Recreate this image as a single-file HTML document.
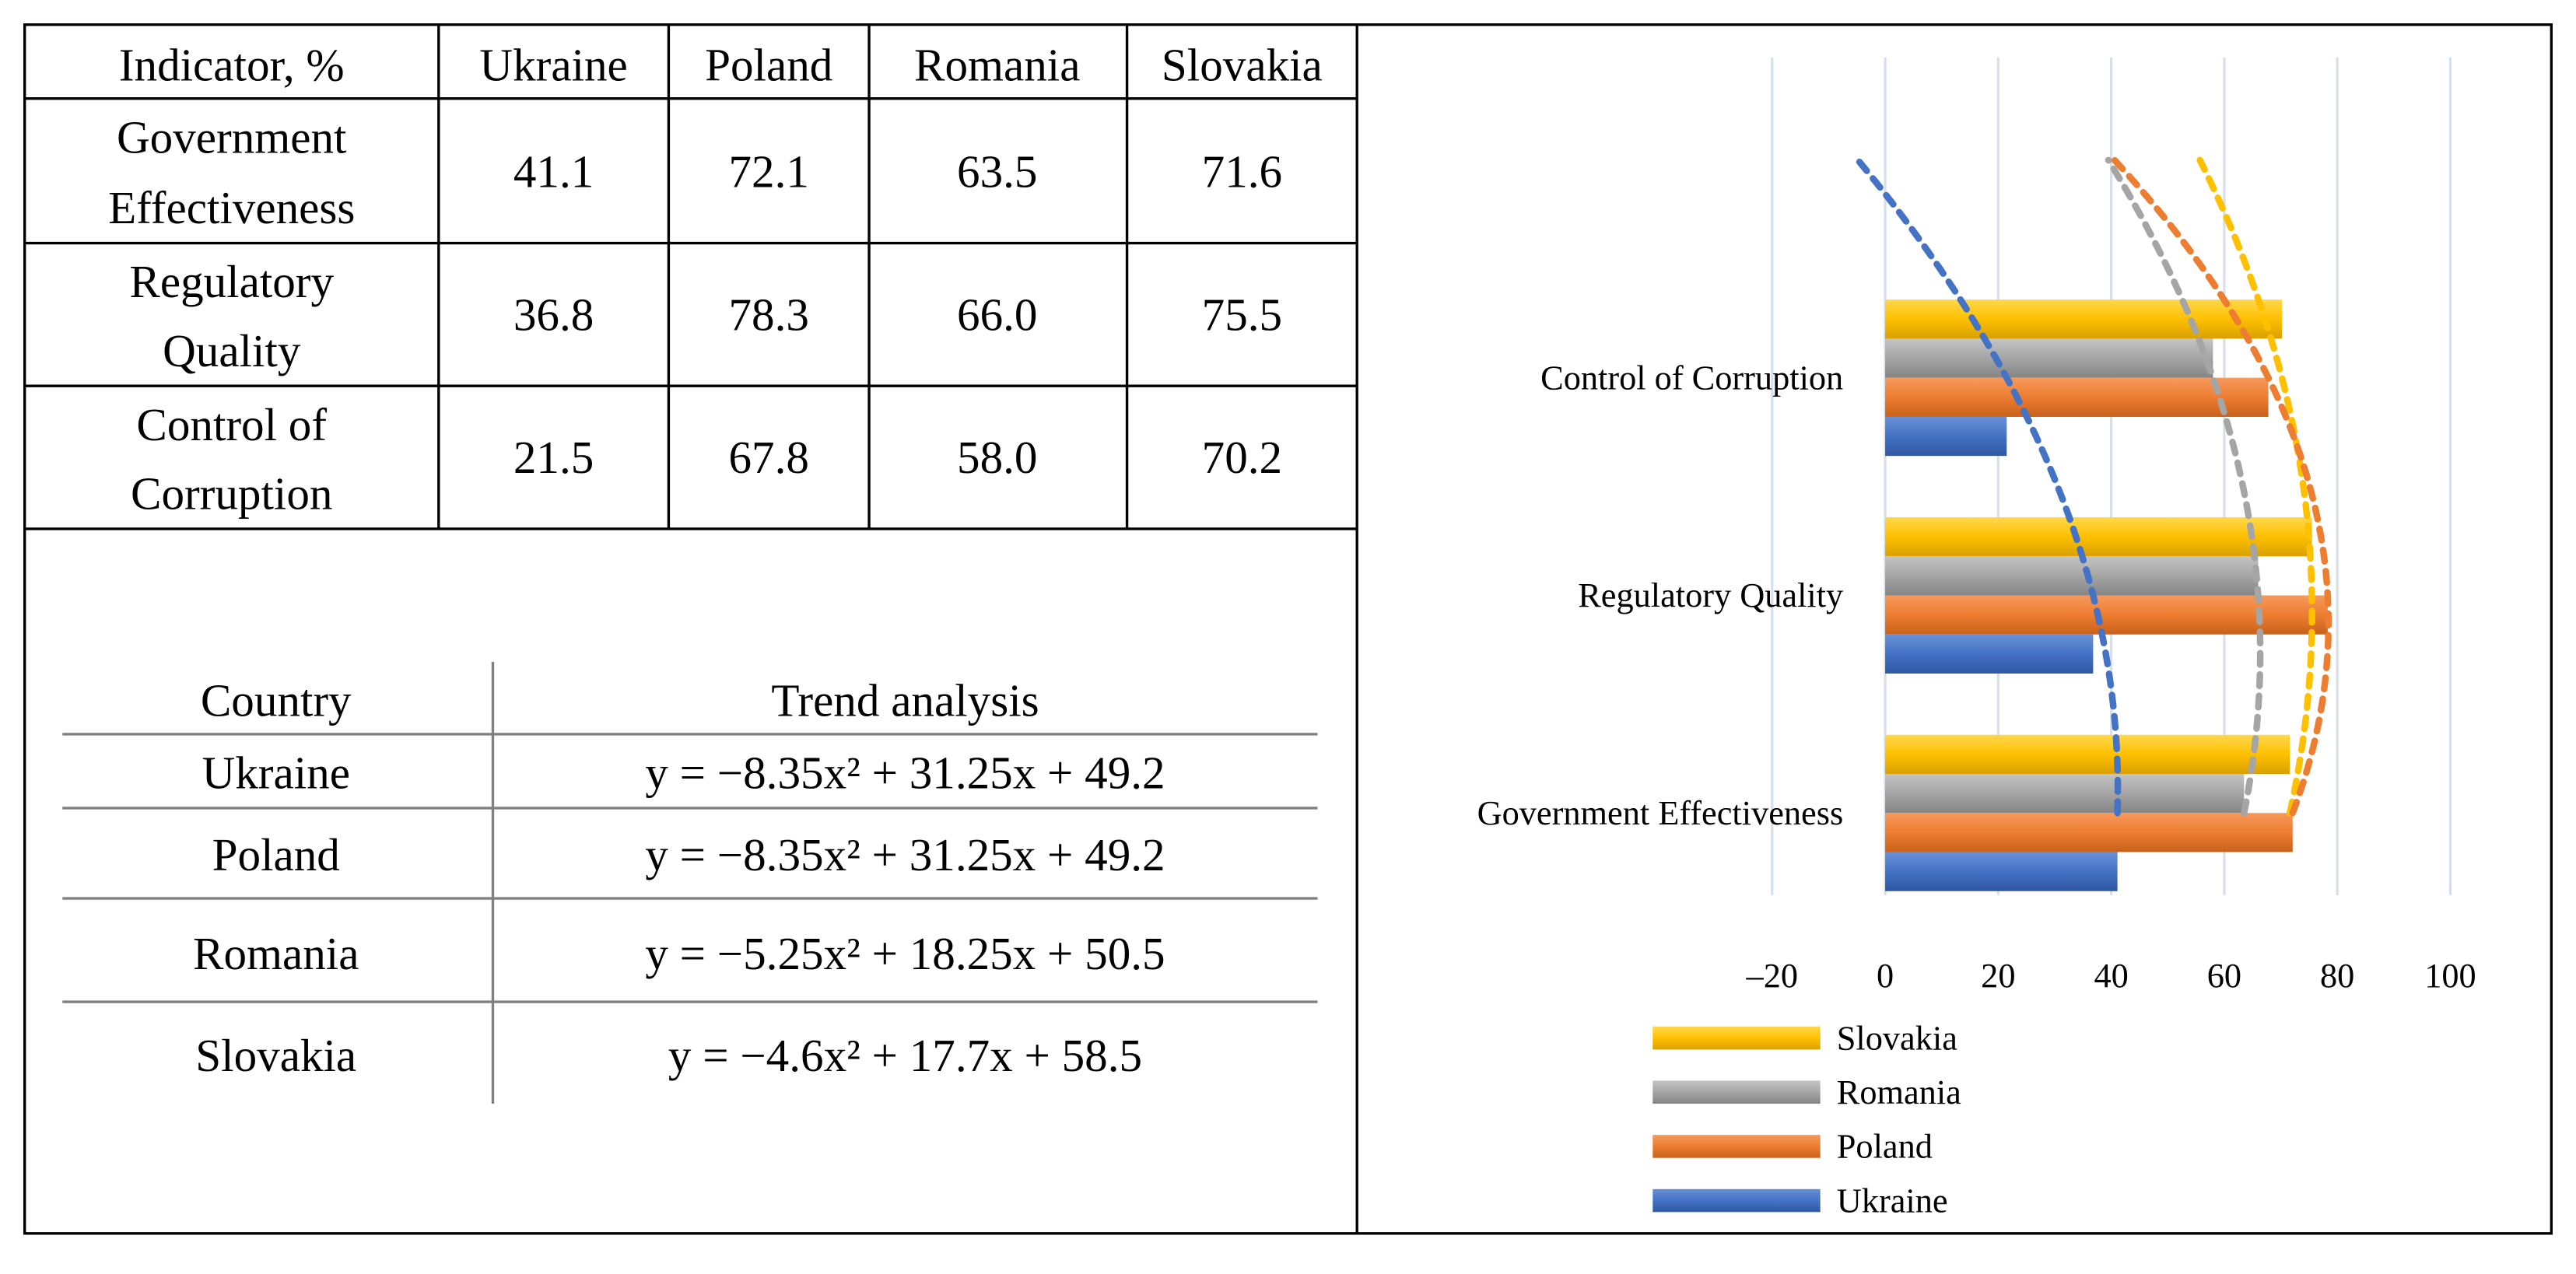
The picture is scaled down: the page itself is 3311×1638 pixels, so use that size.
<!DOCTYPE html>
<html><head><meta charset="utf-8"><style>
html,body{margin:0;padding:0;background:#fff}
svg{display:block}
text{font-family:"Liberation Serif",serif;fill:#000}
</style></head><body>
<svg id="svg" width="3311" height="1638" viewBox="0 0 1568 775.7" xmlns="http://www.w3.org/2000/svg">
<defs>
<linearGradient id="g-Slovakia" x1="0" y1="0" x2="0" y2="1"><stop offset="0" stop-color="#ffd84d"/><stop offset="0.5" stop-color="#ffc000"/><stop offset="1" stop-color="#d9a000"/></linearGradient>
<linearGradient id="g-Romania" x1="0" y1="0" x2="0" y2="1"><stop offset="0" stop-color="#c4c4c4"/><stop offset="0.5" stop-color="#a5a5a5"/><stop offset="1" stop-color="#858585"/></linearGradient>
<linearGradient id="g-Poland" x1="0" y1="0" x2="0" y2="1"><stop offset="0" stop-color="#f59a5c"/><stop offset="0.5" stop-color="#ed7d31"/><stop offset="1" stop-color="#c9611b"/></linearGradient>
<linearGradient id="g-Ukraine" x1="0" y1="0" x2="0" y2="1"><stop offset="0" stop-color="#6a90d6"/><stop offset="0.5" stop-color="#4472c4"/><stop offset="1" stop-color="#2f58a3"/></linearGradient>
</defs>
<rect x="15" y="15" width="1538" height="736" fill="none" stroke="#000" stroke-width="1.6"/>
<line x1="826" y1="15" x2="826" y2="751" stroke="#000" stroke-width="1.6"/>
<g stroke="#000" stroke-width="1.6">
<line x1="15" y1="60" x2="826" y2="60"/><line x1="15" y1="148" x2="826" y2="148"/>
<line x1="15" y1="235" x2="826" y2="235"/><line x1="15" y1="322" x2="826" y2="322"/>
<line x1="267" y1="15" x2="267" y2="322"/><line x1="407" y1="15" x2="407" y2="322"/>
<line x1="529" y1="15" x2="529" y2="322"/><line x1="686" y1="15" x2="686" y2="322"/>
</g>
<g font-size="28" text-anchor="middle">
<text x="141" y="49">Indicator, %</text>
<text x="337" y="49">Ukraine</text>
<text x="468" y="49">Poland</text>
<text x="607" y="49">Romania</text>
<text x="756" y="49">Slovakia</text>
<text x="141" y="93">Government</text>
<text x="141" y="136">Effectiveness</text>
<text x="141" y="181">Regulatory</text>
<text x="141" y="223">Quality</text>
<text x="141" y="268">Control of</text>
<text x="141" y="310">Corruption</text>
<text x="337" y="114">41.1</text><text x="468" y="114">72.1</text><text x="607" y="114">63.5</text><text x="756" y="114">71.6</text>
<text x="337" y="201">36.8</text><text x="468" y="201">78.3</text><text x="607" y="201">66.0</text><text x="756" y="201">75.5</text>
<text x="337" y="288">21.5</text><text x="468" y="288">67.8</text><text x="607" y="288">58.0</text><text x="756" y="288">70.2</text>
</g>
<g stroke="#808080" stroke-width="1.6">
<line x1="300" y1="403" x2="300" y2="672"/>
<line x1="38" y1="447" x2="802" y2="447"/><line x1="38" y1="492" x2="802" y2="492"/>
<line x1="38" y1="547" x2="802" y2="547"/><line x1="38" y1="610" x2="802" y2="610"/>
</g>
<g font-size="28" text-anchor="middle">
<text x="168" y="436">Country</text>
<text x="551" y="436">Trend analysis</text>
<text x="168" y="480">Ukraine</text><text x="551" y="480">y = −8.35x² + 31.25x + 49.2</text>
<text x="168" y="530">Poland</text><text x="551" y="530">y = −8.35x² + 31.25x + 49.2</text>
<text x="168" y="590">Romania</text><text x="551" y="590">y = −5.25x² + 18.25x + 50.5</text>
<text x="168" y="652">Slovakia</text><text x="551" y="652">y = −4.6x² + 17.7x + 58.5</text>
</g>
<g id="chart"></g>
</svg>
<script>
const categories = ["Government Effectiveness", "Regulatory Quality", "Control of Corruption"];
const series = ["Slovakia", "Romania", "Poland", "Ukraine"];
const ukraine = [41.1, 36.8, 21.5];
const poland = [72.1, 78.3, 67.8];
const romania = [63.5, 66.0, 58.0];
const slovakia = [71.6, 75.5, 70.2];
const ticks = [-20, 0, 20, 40, 60, 80, 100];
const colors = {Slovakia:"#ffc000", Romania:"#a5a5a5", Poland:"#ed7d31", Ukraine:"#4472c4"};
const values = {Slovakia:slovakia, Romania:romania, Poland:poland, Ukraine:ukraine};

const NS = "http://www.w3.org/2000/svg";
const chart = document.getElementById("chart");
const xS = v => 1147.5 + v * 3.44;
const yC = i => 495 - (i - 1) * 132.5;
function mk(tag, attrs) {
  const e = document.createElementNS(NS, tag);
  for (const k in attrs) e.setAttribute(k, attrs[k]);
  chart.appendChild(e);
  return e;
}
ticks.forEach(t => {
  const l = mk("line", {x1:xS(t), x2:xS(t), y1:35, y2:545, stroke:"#d6dfea", "stroke-width":1.5});
  
  
  const tx = mk("text", {x:xS(t), y:601, "font-size":21, "text-anchor":"middle", fill:"#222"});
  tx.textContent = t < 0 ? "–" + Math.abs(t) : String(t);
  
  
});
const barH = 23.8;
categories.forEach((c, ci) => {
  const yc = yC(ci + 1);
  const lab = mk("text", {x:1122, y:yc + 7, "font-size":21, "text-anchor":"end", fill:"#222"});
  lab.textContent = c;
  
  
  series.forEach((s, si) => {
    const v = values[s][ci];
    const y0 = yc - 2 * barH + si * barH;
    const r = mk("rect", {x:xS(0), y:y0, width:xS(v) - xS(0), height:barH, fill:"url(#g-" + s + ")"});
    
    
  });
});
series.forEach(s => {
  const d = values[s];
  const a = (d[2] - 2 * d[1] + d[0]) / 2;
  const b = (d[1] - d[0]) - 3 * a;
  const c = d[0] - a - b;
  let p = "";
  for (let k = 0; k <= 60; k++) {
    const x = 1 + 3 * k / 60;
    const y = a * x * x + b * x + c;
    p += (k ? "L" : "M") + xS(y).toFixed(2) + "," + yC(x).toFixed(2);
  }
  const pa = mk("path", {d:p, fill:"none", stroke:colors[s], "stroke-width":4, "stroke-dasharray":"7 6", "stroke-linecap":"round"});
  
  
});
series.forEach((s, i) => {
  const y = 632 + i * 33;
  const sw = mk("rect", {x:1006, y:y - 7, width:102, height:14, fill:"url(#g-" + s + ")"});
  
  
  const t = mk("text", {x:1118, y:y + 7, "font-size":21, fill:"#222"});
  t.textContent = s;
  
  
});
</script>
</body></html>
